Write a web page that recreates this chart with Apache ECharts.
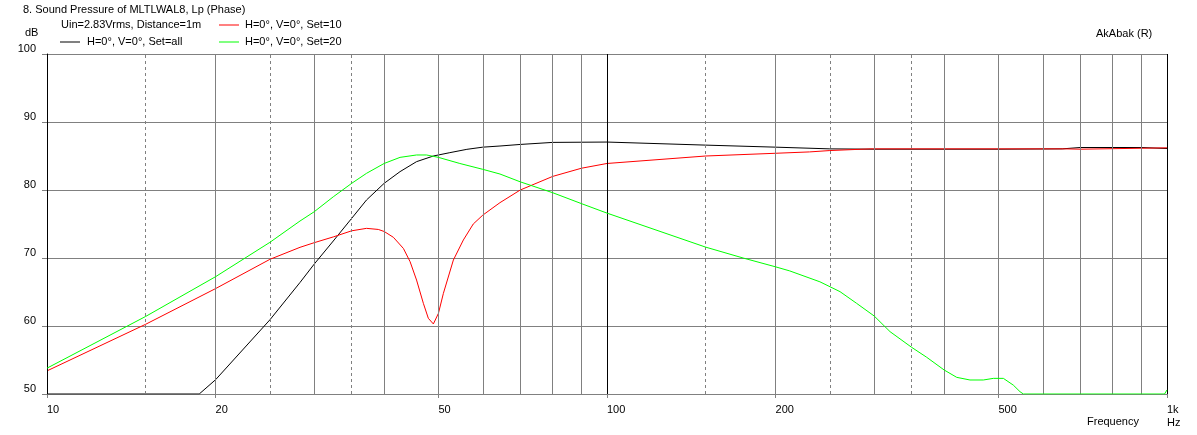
<!DOCTYPE html>
<html><head><meta charset="utf-8">
<script src="https://cdn.jsdelivr.net/npm/echarts@6/dist/echarts.min.js"></script>
<style>html,body{margin:0;padding:0;background:#fff}#c{width:1197px;height:435px}</style>
</head><body><div id="c"></div>
<script>
// ---- data ----
const blackFreq = [10, 18.7, 20, 25, 28.3, 30, 32.45, 35, 37.2, 40, 42.7, 45.7, 48.97, 52.4, 56.2, 60, 64.4, 70, 80, 100, 150, 200, 250, 300, 500, 650, 700, 900, 1000];
const blackDb   = [50, 50, 52.1, 60.9, 66.4, 69.1, 72.5, 75.83, 78.53, 80.98, 82.7, 84.17, 85.0, 85.49, 85.98, 86.3, 86.47, 86.7, 87.0, 87.05, 86.6, 86.3, 86.05, 86.0, 86.0, 86.05, 86.25, 86.25, 86.1];

const redFreq = [10, 15, 20, 25, 28.3, 30, 32.45, 35, 37.2, 39.05, 40, 41.55, 43.3, 44.5, 45.7, 47.0, 47.97, 48.97, 50, 51.03, 53.17, 55.4, 57.7, 60, 64.4, 70, 80, 90, 100, 150, 200, 230, 250, 295, 660, 700, 1000];
const redDb   = [53.4, 60.25, 65.5, 69.8, 71.57, 72.25, 73.1, 74.0, 74.36, 74.2, 73.9, 73.04, 71.4, 69.46, 66.76, 63.33, 61.13, 60.3, 61.86, 64.8, 69.7, 72.65, 75.0, 76.3, 78.14, 80.0, 82.0, 83.2, 83.9, 85.0, 85.4, 85.6, 85.8, 86.05, 86.05, 86.0, 86.2];

const greenFreq = [10, 15, 20, 25, 28.3, 30, 32.45, 35, 37.2, 40, 42.7, 45.7, 47.6, 50, 54.6, 60, 64.4, 70, 80, 90, 100, 150, 175, 200, 212, 240, 260.7, 279.1, 300, 320.2, 350, 372.3, 400, 421.2, 444.8, 469.9, 489.7, 510.3, 531.7, 546.4, 554, 990, 1000];
const greenDb   = [53.8, 61.4, 67.25, 72.3, 75.44, 76.8, 79.0, 80.98, 82.45, 83.9, 84.8, 85.15, 85.15, 84.8, 83.9, 83.04, 82.35, 81.2, 79.6, 78.0, 76.6, 71.6, 70.0, 68.7, 68.1, 66.5, 65.05, 63.33, 61.47, 59.17, 56.86, 55.4, 53.53, 52.45, 52.06, 52.06, 52.3, 52.3, 51.3, 50.34, 50, 50, 50.6];

const solidGrid  = [20, 30, 40, 50, 60, 70, 80, 90, 200, 300, 400, 500, 600, 700, 800, 900];
const dashedGrid = [15, 25, 35, 150, 250, 350];
const axisGrid   = [10, 100, 1000];
const xTickLabels = [10, 20, 50, 100, 200, 500, 1000];

const seriesNames = ['H=0°, V=0°, Set=all', 'H=0°, V=0°, Set=10', 'H=0°, V=0°, Set=20'];
// ---- end data ----

const pairs = (f, v) => f.map((x, i) => [x, v[i]]);
const FONT = 'Liberation Sans';
const GRAY = '#808080';

const gridMarks = []
  .concat(solidGrid.map(v => ({xAxis: v, lineStyle: {color: GRAY, type: 'solid', width: 1}})))
  .concat(dashedGrid.map(v => ({xAxis: v, lineStyle: {color: GRAY, type: [3, 3], width: 1}})))
  .concat(axisGrid.map(v => ({xAxis: v, lineStyle: {color: '#000', type: 'solid', width: 1}})));

const chart = echarts.init(document.getElementById('c'), null, {renderer: 'canvas'});
chart.setOption({
  animation: false,
  backgroundColor: '#fff',
  textStyle: {fontFamily: FONT},
  title: {
    text: '8. Sound Pressure of MLTLWAL8, Lp (Phase)',
    left: 23, top: 4, padding: 0,
    textStyle: {fontFamily: FONT, fontSize: 11, fontWeight: 'normal', color: '#000'}
  },
  legend: [
    {
      data: [seriesNames[0]], left: 60, top: 35.5, padding: 0, icon: 'rect', itemWidth: 20, itemHeight: 1,
      textStyle: {fontFamily: FONT, fontSize: 11, color: '#000', lineHeight: 13, padding: [0, 0, 0, 2]},
      selectedMode: false
    },
    {
      data: [seriesNames[1], seriesNames[2]], orient: 'vertical', left: 219, top: 18.5, padding: 0, itemGap: 4,
      icon: 'rect', itemWidth: 20, itemHeight: 1,
      textStyle: {fontFamily: FONT, fontSize: 11, color: '#000', lineHeight: 13, padding: [0, 0, 0, 1]},
      selectedMode: false
    }
  ],
  graphic: [
    {type: 'text', left: 61, top: 19, style: {text: 'Uin=2.83Vrms, Distance=1m', font: '11px ' + FONT, fill: '#000'}},
    {type: 'text', left: 25, top: 27, style: {text: 'dB', font: '11px ' + FONT, fill: '#000'}},
    {type: 'text', left: 1096, top: 28, style: {text: 'AkAbak (R)', font: '11px ' + FONT, fill: '#000'}},
    {type: 'text', left: 1087, top: 416, style: {text: 'Frequency', font: '11px ' + FONT, fill: '#000'}}
  ],
  grid: {left: 47, right: 30, top: 54, bottom: 41, containLabel: false},
  xAxis: {
    type: 'log', logBase: 10, min: 10, max: 1000,
    axisLine: {show: true, lineStyle: {color: GRAY}},
    axisTick: {show: true, customValues: xTickLabels, length: 4, lineStyle: {color: GRAY}},
    splitLine: {show: false},
    axisLabel: {
      show: true, customValues: xTickLabels, align: 'left', margin: 9,
      fontFamily: FONT, fontSize: 11, color: '#000', lineHeight: 13,
      formatter: v => (v >= 1000 ? '1k\nHz' : String(v))
    }
  },
  yAxis: {
    type: 'value', min: 50, max: 100, interval: 10,
    axisLine: {show: true, lineStyle: {color: '#000'}},
    axisTick: {show: true, length: 5, lineStyle: {color: GRAY}},
    splitLine: {show: true, lineStyle: {color: GRAY, width: 1}},
    axisLabel: {margin: 11, fontFamily: FONT, fontSize: 11, color: '#000', verticalAlign: 'bottom'}
  },
  series: [
    {
      name: 'grid', type: 'line', data: [], z: 1, silent: true,
      markLine: {silent: true, symbol: ['none', 'none'], label: {show: false}, animation: false, data: gridMarks}
    },
    {
      name: seriesNames[0], type: 'line', data: pairs(blackFreq, blackDb), showSymbol: false, symbol: 'none',
      lineStyle: {color: '#000', width: 1}, itemStyle: {color: '#000'}, z: 3
    },
    {
      name: seriesNames[1], type: 'line', data: pairs(redFreq, redDb), showSymbol: false, symbol: 'none',
      lineStyle: {color: '#ff0000', width: 1}, itemStyle: {color: '#ff0000'}, z: 4
    },
    {
      name: seriesNames[2], type: 'line', data: pairs(greenFreq, greenDb), showSymbol: false, symbol: 'none',
      lineStyle: {color: '#00ff00', width: 1}, itemStyle: {color: '#00ff00'}, z: 5
    }
  ]
});
</script></body></html>
